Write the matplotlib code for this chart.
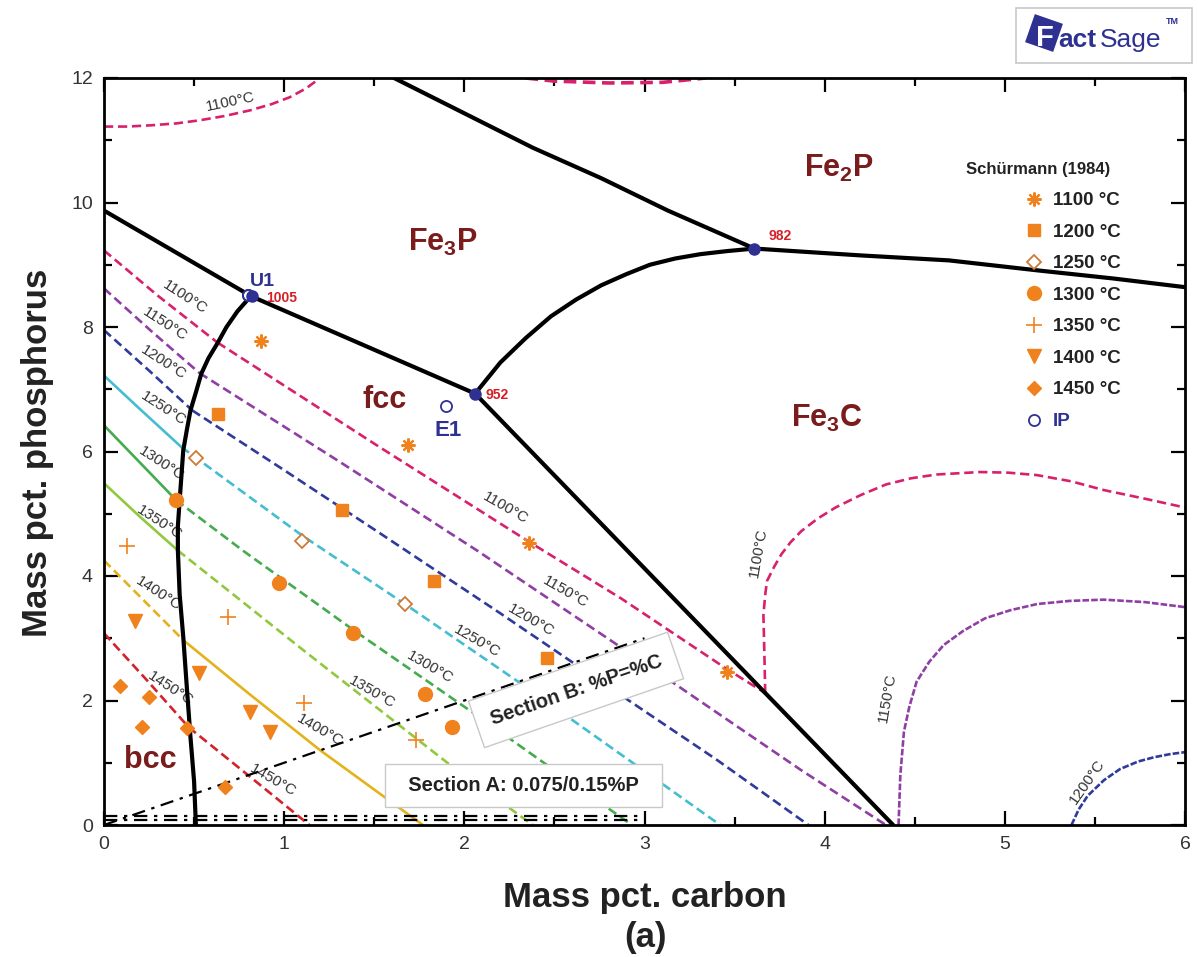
import matplotlib
matplotlib.use('Agg')
import matplotlib.pyplot as plt
from matplotlib.patches import Rectangle, RegularPolygon
from matplotlib.transforms import IdentityTransform

plt.rcParams['font.family'] = ['Liberation Sans', 'DejaVu Sans']
plt.rcParams['mathtext.fontset'] = 'custom'
plt.rcParams['mathtext.bf'] = 'Liberation Sans:bold'
plt.rcParams['mathtext.rm'] = 'Liberation Sans:bold'
plt.rcParams['mathtext.default'] = 'bf'

# ---- univariant lines (mass pct C, mass pct P) ----
bcc_fcc_c = [0.81, 0.74, 0.68, 0.63, 0.58, 0.54, 0.51, 0.48, 0.46, 0.44, 0.43, 0.42,
             0.41, 0.41, 0.42, 0.44, 0.46, 0.48, 0.50, 0.51]
bcc_fcc_p = [8.48, 8.25, 8.00, 7.74, 7.50, 7.25, 6.95, 6.66, 6.35, 6.02, 5.62, 5.22,
             4.80, 4.41, 3.70, 3.02, 2.20, 1.41, 0.70, 0.0]

fe3p_left_c = [0.0, 0.82, 2.06]
fe3p_left_p = [9.87, 8.49, 6.93]

fe3p_fe2p_c = [1.61, 2.38, 2.76, 3.13, 3.61]
fe3p_fe2p_p = [12.0, 10.88, 10.39, 9.87, 9.26]

fe3p_fe3c_c = [2.06, 2.20, 2.34, 2.48, 2.62, 2.76, 2.90, 3.03, 3.17, 3.31, 3.46, 3.61]
fe3p_fe3c_p = [6.93, 7.43, 7.82, 8.17, 8.44, 8.67, 8.85, 9.00, 9.10, 9.17, 9.22, 9.26]

fe2p_fe3c_c = [3.61, 4.20, 4.69, 5.18, 5.60, 6.0]
fe2p_fe3c_p = [9.26, 9.15, 9.07, 8.91, 8.78, 8.64]

fcc_fe3c_c = [2.06, 4.38]
fcc_fe3c_p = [6.93, 0.0]

# ---- liquidus isotherms: part on the bcc surface, part on the fcc surface ----
t1100_bcc = ([0.0, 0.30, 0.63], [9.23, 8.50, 7.75])
t1100_fcc = ([0.63, 1.53, 2.37, 2.87, 3.46, 3.67], [7.75, 6.07, 4.53, 3.64, 2.50, 2.12])
t1150_bcc = ([0.0, 0.26, 0.53], [8.62, 7.94, 7.26])
t1150_fcc = ([0.53, 1.30, 2.07, 3.00, 3.87, 4.34], [7.26, 5.85, 4.41, 2.60, 0.88, 0.0])
t1200_bcc = ([0.0, 0.25, 0.49], [7.95, 7.30, 6.66])
t1200_fcc = ([0.49, 1.00, 1.53, 2.20, 2.80, 3.40, 3.91], [6.66, 5.70, 4.69, 3.40, 2.22, 1.05, 0.0])
t1250_bcc = ([0.0, 0.20, 0.43], [7.22, 6.68, 6.07])
t1250_fcc = ([0.43, 1.10, 1.67, 2.30, 2.90, 3.42], [6.07, 4.65, 3.55, 2.30, 1.07, 0.0])
t1300_bcc = ([0.0, 0.20, 0.40], [6.42, 5.82, 5.22])
t1300_fcc = ([0.40, 0.77, 1.40, 2.05, 2.93], [5.22, 4.41, 3.10, 1.80, 0.0])
t1350_bcc = ([0.0, 0.20, 0.41], [5.49, 4.95, 4.41])
t1350_fcc = ([0.41, 1.11, 1.91, 2.38], [4.41, 2.80, 0.99, 0.0])
t1400_bcc = ([0.0, 0.22, 0.44], [4.25, 3.61, 2.97])
t1400_fcc = ([0.44, 0.80, 1.20, 1.77], [2.97, 2.12, 1.20, 0.0])
t1450_bcc = ([0.0, 0.24, 0.47], [3.08, 2.32, 1.57])
t1450_fcc = ([0.47, 0.80, 1.14], [1.57, 0.80, 0.0])

# isotherms on the Fe3P, Fe2P and Fe3C surfaces
t1100_fe3p_c = [0.0, 0.13, 0.26, 0.40, 0.53, 0.67, 0.81, 0.93, 1.03, 1.12, 1.20]
t1100_fe3p_p = [11.22, 11.22, 11.24, 11.27, 11.32, 11.39, 11.48, 11.58, 11.69, 11.83, 12.0]
t1100_fe2p_c = [2.34, 2.50, 2.80, 3.10, 3.34]
t1100_fe2p_p = [12.0, 11.95, 11.92, 11.93, 12.0]
t1100_fe3c_c = [3.67, 3.665, 3.66, 3.67, 3.68, 3.72, 3.76, 3.81, 3.87, 3.96, 4.06, 4.20,
                4.34, 4.48, 4.62, 4.86, 5.02, 5.18, 5.37, 5.55, 5.78, 6.0]
t1100_fe3c_p = [2.12, 2.80, 3.37, 3.70, 3.92, 4.15, 4.35, 4.54, 4.72, 4.92, 5.10, 5.30,
                5.47, 5.57, 5.63, 5.67, 5.66, 5.62, 5.52, 5.38, 5.24, 5.10]
t1150_fe3c_c = [4.41, 4.42, 4.44, 4.47, 4.51, 4.58, 4.66, 4.77, 4.89, 5.03, 5.18, 5.36,
                5.55, 5.78, 6.0]
t1150_fe3c_p = [0.0, 0.80, 1.50, 1.90, 2.30, 2.62, 2.89, 3.12, 3.32, 3.45, 3.55, 3.60,
                3.62, 3.58, 3.50]
t1200_fe3c_c = [5.37, 5.41, 5.46, 5.55, 5.64, 5.74, 5.83, 5.92, 6.0]
t1200_fe3c_p = [0.0, 0.25, 0.47, 0.72, 0.90, 1.02, 1.09, 1.14, 1.17]

# ---- Schuermann (1984) liquidus measurements ----
exp_1100_c = [0.87, 1.69, 2.36, 3.46]
exp_1100_p = [7.77, 6.10, 4.53, 2.46]
exp_1200_c = [0.63, 1.32, 1.83, 2.46]
exp_1200_p = [6.61, 5.06, 3.92, 2.68]
exp_1250_c = [0.51, 1.10, 1.67]
exp_1250_p = [5.89, 4.56, 3.55]
exp_1300_c = [0.40, 0.97, 1.38, 1.78, 1.93]
exp_1300_p = [5.22, 3.88, 3.08, 2.10, 1.57]
exp_1350_c = [0.13, 0.69, 1.11, 1.73]
exp_1350_p = [4.48, 3.34, 1.96, 1.36]
exp_1400_c = [0.17, 0.53, 0.81, 0.92]
exp_1400_p = [3.27, 2.44, 1.81, 1.49]
exp_1450_c = [0.09, 0.25, 0.21, 0.46, 0.67]
exp_1450_p = [2.23, 2.05, 1.57, 1.56, 0.61]

# invariant points
inv_c = [0.82, 2.06, 3.61]
inv_p = [8.49, 6.93, 9.26]
inv_t = ['1005', '952', '982']
ip_c = [0.80, 1.90]
ip_p = [8.52, 6.73]

section_b_c = [0.0, 3.0]
section_a_p = [0.075, 0.15]

navy = '#2e3192'
orange = '#f0821e'
region_red = '#7a1c1c'
dash = (0, (3.5, 1.8))
fine_dash = (0, (2.5, 0.8))
dashdot = (0, (6, 3, 1.5, 3))

fig = plt.figure(figsize=(11.98, 9.57), dpi=100)
ax = fig.add_axes([104 / 1198, 1 - 825 / 957, 1081 / 1198, 747 / 957])

iso_colors = {1100: '#d8206c', 1150: '#8f3fa4', 1200: '#2f3a9a', 1250: '#45bdd0',
              1300: '#45ab4f', 1350: '#92c83e', 1400: '#e3b21c', 1450: '#d3222a'}
iso_parts = {1100: (t1100_bcc, t1100_fcc), 1150: (t1150_bcc, t1150_fcc),
             1200: (t1200_bcc, t1200_fcc), 1250: (t1250_bcc, t1250_fcc),
             1300: (t1300_bcc, t1300_fcc), 1350: (t1350_bcc, t1350_fcc),
             1400: (t1400_bcc, t1400_fcc), 1450: (t1450_bcc, t1450_fcc)}
solid_bcc = (1250, 1300, 1350)
solid_fcc = (1400,)

for t, (bcc, fcc) in iso_parts.items():
    col = iso_colors[t]
    ax.plot(bcc[0], bcc[1], color=col, lw=1.9,
            ls='-' if t in solid_bcc else dash, zorder=2)
    ax.plot(fcc[0], fcc[1], color=col, lw=1.9,
            ls='-' if t in solid_fcc else dash, zorder=2)

ax.plot(t1100_fe3p_c, t1100_fe3p_p, color=iso_colors[1100], lw=1.9, ls=dash, zorder=2)
ax.plot(t1100_fe2p_c, t1100_fe2p_p, color=iso_colors[1100], lw=2.6, ls=dash, zorder=2)
ax.plot(t1100_fe3c_c, t1100_fe3c_p, color=iso_colors[1100], lw=1.9, ls=dash, zorder=2)
ax.plot(t1150_fe3c_c, t1150_fe3c_p, color=iso_colors[1150], lw=1.9, ls=fine_dash, zorder=2)
ax.plot(t1200_fe3c_c, t1200_fe3c_p, color=iso_colors[1200], lw=1.9, ls=fine_dash, zorder=2)

# phase boundaries
for xs, ys in [(bcc_fcc_c, bcc_fcc_p), (fe3p_left_c, fe3p_left_p),
               (fe3p_fe2p_c, fe3p_fe2p_p), (fe3p_fe3c_c, fe3p_fe3c_p),
               (fe2p_fe3c_c, fe2p_fe3c_p), (fcc_fe3c_c, fcc_fe3c_p)]:
    ax.plot(xs, ys, color='black', lw=3.0, solid_capstyle='round',
            solid_joinstyle='round', zorder=4)

# isotherm labels
iso_labels = [
    ('1100°C', 0.70, 11.62, 12), ('1100°C', 0.45, 8.48, -33), ('1150°C', 0.34, 8.05, -33),
    ('1200°C', 0.33, 7.43, -33), ('1250°C', 0.33, 6.69, -33), ('1300°C', 0.32, 5.81, -33),
    ('1350°C', 0.31, 4.86, -33), ('1400°C', 0.30, 3.72, -33), ('1450°C', 0.37, 2.20, -33),
    ('1100°C', 2.23, 5.10, -30), ('1150°C', 2.56, 3.74, -30), ('1200°C', 2.37, 3.29, -30),
    ('1250°C', 2.07, 2.95, -30), ('1300°C', 1.81, 2.54, -30), ('1350°C', 1.49, 2.13, -30),
    ('1400°C', 1.20, 1.52, -30), ('1450°C', 0.94, 0.72, -30),
    ('1100°C', 3.63, 4.38, 80), ('1150°C', 4.35, 2.04, 80), ('1200°C', 5.46, 0.69, 55),
]
for txt, x, y, rot in iso_labels:
    ax.text(x, y, txt, rotation=rot, ha='center', va='center',
            fontsize=11, color='#333333', zorder=3)

# section lines
ax.plot(section_b_c, section_b_c, color='black', lw=1.6, ls=dashdot, zorder=3)
for p in section_a_p:
    ax.plot([0, 3.0], [p, p], color='black', lw=1.6, ls=dashdot, zorder=3)

ax.text(2.62, 2.17, 'Section B: %P=%C', rotation=19.1, ha='center', va='center',
        fontsize=14.5, fontweight='bold', color='#222222', zorder=6,
        bbox=dict(boxstyle='square,pad=0.75', fc='white', ec='#c8c8c8', lw=1))
ax.text(2.33, 0.63, '  Section A: 0.075/0.15%P  ', ha='center', va='center',
        fontsize=14.5, fontweight='bold', color='#222222', zorder=6,
        bbox=dict(boxstyle='square,pad=0.6', fc='white', ec='#c8c8c8', lw=1))

# experimental points
h1100, = ax.plot(exp_1100_c, exp_1100_p, ls='none', marker=(8, 2, 0), ms=10, mew=1.6,
                 color=orange, zorder=5)
h1200, = ax.plot(exp_1200_c, exp_1200_p, ls='none', marker='s', ms=8, color=orange, zorder=5)
h1250, = ax.plot(exp_1250_c, exp_1250_p, ls='none', marker='D', ms=7, mfc='white',
                 mec='#cc7a35', mew=1.3, zorder=5)
h1300, = ax.plot(exp_1300_c, exp_1300_p, ls='none', marker='o', ms=10, color=orange, zorder=5)
h1350, = ax.plot(exp_1350_c, exp_1350_p, ls='none', marker='+', ms=11, mew=1.2,
                 color=orange, zorder=5)
h1400, = ax.plot(exp_1400_c, exp_1400_p, ls='none', marker='v', ms=10, color=orange, zorder=5)
h1450, = ax.plot(exp_1450_c, exp_1450_p, ls='none', marker='D', ms=7, color=orange, zorder=5)
hip, = ax.plot(ip_c, ip_p, ls='none', marker='o', ms=8, mfc='white', mec=navy, mew=1.3, zorder=6)

# invariant points
ax.plot(inv_c, inv_p, ls='none', marker='o', ms=8, color=navy, zorder=6)
ax.plot(ip_c[:1], ip_p[:1], ls='none', marker='o', ms=8, mfc='none', mec=navy, mew=1.3, zorder=7)
inv_offsets = [(0.08, -0.02), (0.06, -0.03), (0.08, 0.20)]
for x, y, t, (dx, dy) in zip(inv_c, inv_p, inv_t, inv_offsets):
    ax.text(x + dx, y + dy, t, ha='left', va='center', fontsize=10, fontweight='bold',
            color='#d42027', zorder=6)
ax.text(0.88, 8.73, 'U1', ha='center', va='center', fontsize=14, fontweight='bold',
        color=navy, zorder=6)
ax.text(1.91, 6.34, 'E1', ha='center', va='center', fontsize=16, fontweight='bold',
        color=navy, zorder=6)

# primary phase regions
regions = [('Fe$_3$P', 1.88, 9.36), ('Fe$_2$P', 4.08, 10.55), ('fcc', 1.56, 6.82),
           ('Fe$_3$C', 4.01, 6.53), ('bcc', 0.255, 1.04)]
for txt, x, y in regions:
    ax.text(x, y, txt, ha='center', va='center', fontsize=22, fontweight='bold',
            color=region_red, zorder=6)

# legend
handles = [h1100, h1200, h1250, h1300, h1350, h1400, h1450, hip]
labels = ['1100 °C', '1200 °C', '1250 °C', '1300 °C', '1350 °C', '1400 °C', '1450 °C', 'IP']
leg = ax.legend(handles, labels, loc='upper left',
                bbox_to_anchor=((1025 - 104) / 1081, (825 - 192) / 747),
                frameon=False, prop=dict(weight='bold', size=13.5), handlelength=1.0,
                handletextpad=0.5, labelspacing=0.77, borderpad=0, borderaxespad=0)
for txt in leg.get_texts():
    txt.set_color('#222222')
leg.get_texts()[-1].set_color(navy)
ax.text((1037 - 104) / 180, (825 - 169) / 62.3, 'Schürmann (1984)', ha='center', va='center',
        fontsize=12, fontweight='bold', color='#222222')

# axes
ax.set_xlim(0, 6)
ax.set_ylim(0, 12)
ax.set_xticks(range(0, 7))
ax.set_xticks([i + 0.5 for i in range(6)], minor=True)
ax.set_yticks(range(0, 13, 2))
ax.set_yticks(range(1, 12, 2), minor=True)
ax.tick_params(which='both', direction='in', top=True, right=True, width=1.6,
               labelsize=14, labelcolor='#333333', pad=8)
ax.tick_params(which='major', length=10)
ax.tick_params(which='minor', length=6)
for s in ax.spines.values():
    s.set_linewidth(2.0)

fig.text(645 / 1198, 1 - 897 / 957, 'Mass pct. carbon', ha='center', va='center',
         fontsize=25, fontweight='bold', color='#222222')
fig.text(645 / 1198, 1 - 938 / 957, '(a)', ha='center', va='center',
         fontsize=25, fontweight='bold', color='#222222')
fig.text(38 / 1198, 1 - 453 / 957, 'Mass pct. phosphorus', ha='center', va='center',
         rotation=90, fontsize=25, fontweight='bold', color='#222222')

# FactSage logo
px = IdentityTransform()
fig.add_artist(Rectangle((1016, 957 - 63), 176, 55, transform=px, fc='white',
                         ec='#c8c8c8', lw=1.2))
fig.add_artist(RegularPolygon((1044, 957 - 33), 4, radius=21, orientation=0.45,
                              transform=px, fc=navy, ec='none'))
fig.text(1036 / 1198, 1 - 38 / 957, 'F', ha='left', va='center', fontsize=21,
         fontweight='bold', color='white')
fig.text(1058 / 1198, 1 - 40 / 957, 'act', ha='left', va='center', fontsize=19,
         fontweight='bold', color=navy)
fig.text(1100 / 1198, 1 - 40 / 957, 'Sage', ha='left', va='center', fontsize=19,
         color=navy)
fig.text(1166 / 1198, 1 - 22 / 957, 'TM', ha='left', va='center', fontsize=6.5,
         fontweight='bold', color=navy)

fig.savefig('out.png', dpi=100)
